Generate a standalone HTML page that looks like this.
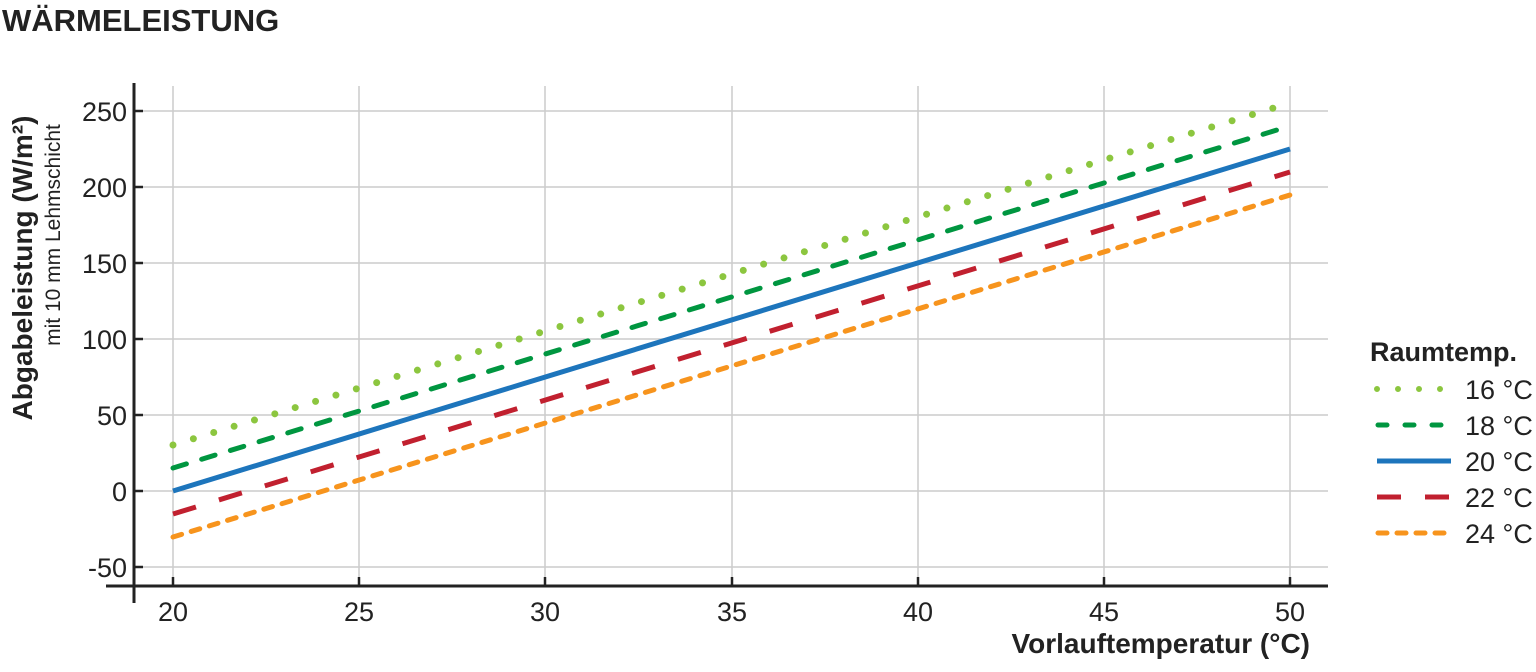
<!DOCTYPE html>
<html><head><meta charset="utf-8"><style>
body{margin:0;background:#fff;}
svg text{font-family:"Liberation Sans",sans-serif;fill:#222;}
</style></head><body>
<svg width="1536" height="667" viewBox="0 0 1536 667" xmlns="http://www.w3.org/2000/svg">
<text x="2" y="31" font-size="31" font-weight="bold">WÄRMELEISTUNG</text>
<g stroke="#ccc" stroke-width="1.5">
<line x1="134" y1="111" x2="1328" y2="111"/>
<line x1="134" y1="187" x2="1328" y2="187"/>
<line x1="134" y1="263" x2="1328" y2="263"/>
<line x1="134" y1="339" x2="1328" y2="339"/>
<line x1="134" y1="415" x2="1328" y2="415"/>
<line x1="134" y1="491" x2="1328" y2="491"/>
<line x1="134" y1="567" x2="1328" y2="567"/>
<line x1="173" y1="86" x2="173" y2="585"/>
<line x1="359" y1="86" x2="359" y2="585"/>
<line x1="545" y1="86" x2="545" y2="585"/>
<line x1="732" y1="86" x2="732" y2="585"/>
<line x1="918" y1="86" x2="918" y2="585"/>
<line x1="1104" y1="86" x2="1104" y2="585"/>
<line x1="1290" y1="86" x2="1290" y2="585"/>
</g>
<g stroke="#222" stroke-width="3">
<line x1="134" y1="83" x2="134" y2="603"/>
<line x1="106" y1="586" x2="1328" y2="586"/>
</g>
<g stroke="#222" stroke-width="2.5">
<line x1="134" y1="111" x2="143" y2="111"/><line x1="134" y1="187" x2="143" y2="187"/><line x1="134" y1="263" x2="143" y2="263"/><line x1="134" y1="339" x2="143" y2="339"/><line x1="134" y1="415" x2="143" y2="415"/><line x1="134" y1="491" x2="143" y2="491"/><line x1="134" y1="567" x2="143" y2="567"/>
<line x1="173" y1="586" x2="173" y2="577"/><line x1="359" y1="586" x2="359" y2="577"/><line x1="545" y1="586" x2="545" y2="577"/><line x1="732" y1="586" x2="732" y2="577"/><line x1="918" y1="586" x2="918" y2="577"/><line x1="1104" y1="586" x2="1104" y2="577"/><line x1="1290" y1="586" x2="1290" y2="577"/>
</g>
<g font-size="27" text-anchor="end">
<text x="127" y="121">250</text><text x="127" y="197">200</text><text x="127" y="273">150</text><text x="127" y="349">100</text><text x="127" y="425">50</text><text x="127" y="501">0</text><text x="127" y="577">-50</text>
</g>
<g font-size="27" text-anchor="middle">
<text x="173" y="621">20</text><text x="359" y="621">25</text><text x="545" y="621">30</text><text x="732" y="621">35</text><text x="918" y="621">40</text><text x="1104" y="621">45</text><text x="1290" y="621">50</text>
</g>
<text x="1310" y="653" font-size="28" font-weight="bold" text-anchor="end">Vorlauftemperatur (°C)</text>
<text transform="translate(32,268) rotate(-90)" font-size="28" font-weight="bold" text-anchor="middle">Abgabeleistung (W/m²)</text>
<text transform="translate(60,235) rotate(-90)" font-size="21" text-anchor="middle">mit 10 mm Lehmschicht</text>
<g fill="none" stroke-width="5">
<line x1="173" y1="445" x2="1290" y2="103" stroke="#8cc63f" stroke-dasharray="0 21.3" stroke-linecap="round" stroke-width="7"/>
<line x1="173" y1="468" x2="1290" y2="126" stroke="#009640" stroke-dasharray="14 16" stroke-linecap="round"/>
<line x1="173" y1="491" x2="1290" y2="149" stroke="#1d75bc"/>
<line x1="173" y1="514" x2="1290" y2="172" stroke="#c1202f" stroke-dasharray="24 24"/>
<line x1="173" y1="537" x2="1290" y2="195" stroke="#f7941d" stroke-dasharray="9 10" stroke-linecap="round"/>
</g>
<text x="1370" y="361" font-size="27" font-weight="bold">Raumtemp.</text>
<g stroke-width="5">
<line x1="1377" y1="389" x2="1450" y2="389" stroke="#8cc63f" stroke-dasharray="0 21" stroke-linecap="round" stroke-width="6"/>
<line x1="1378" y1="425" x2="1450" y2="425" stroke="#009640" stroke-dasharray="9 18" stroke-linecap="round"/>
<line x1="1377" y1="461" x2="1451" y2="461" stroke="#1d75bc"/>
<line x1="1377" y1="497" x2="1450" y2="497" stroke="#c1202f" stroke-dasharray="24 24"/>
<line x1="1378" y1="533" x2="1450" y2="533" stroke="#f7941d" stroke-dasharray="9 10" stroke-linecap="round"/>
</g>
<g font-size="27">
<text x="1465" y="399">16 °C</text><text x="1465" y="435">18 °C</text><text x="1465" y="471">20 °C</text><text x="1465" y="507">22 °C</text><text x="1465" y="543">24 °C</text>
</g>
</svg>
</body></html>
